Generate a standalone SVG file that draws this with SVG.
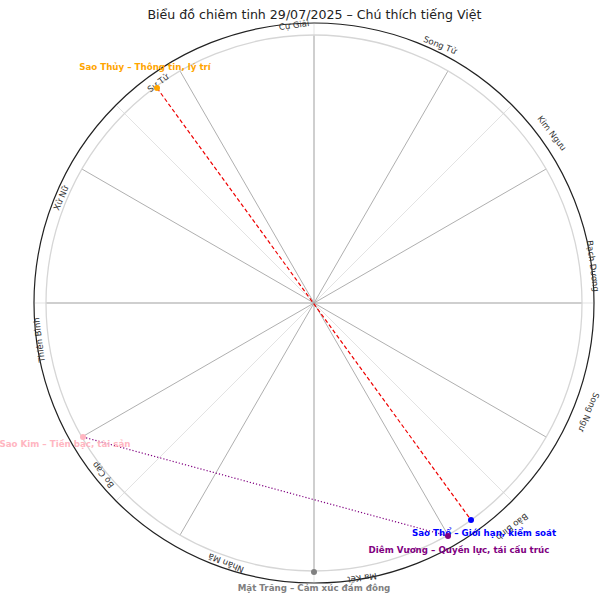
<svg xmlns="http://www.w3.org/2000/svg" width="600" height="600" viewBox="0 0 600 600">
<style>
.t{font-family:"DejaVu Sans",sans-serif}
.sign{font-family:"DejaVu Sans",sans-serif;font-size:8.5px;fill:#333;text-anchor:middle;dominant-baseline:central}
.pl{font-family:"DejaVu Sans",sans-serif;font-size:8.7px;font-weight:bold;text-anchor:middle;dominant-baseline:central}
.grid{stroke:#dcdcdc;stroke-width:0.8}
.house{stroke:#a6a6a6;stroke-width:0.9}
</style>
<rect width="600" height="600" fill="#fff"/>
<g id="wheel">
<g class="grid">
<line x1="314" y1="303" x2="593" y2="303"/>
<line x1="314" y1="303" x2="511.3" y2="105.7"/>
<line x1="314" y1="303" x2="314" y2="24"/>
<line x1="314" y1="303" x2="116.7" y2="105.7"/>
<line x1="314" y1="303" x2="35" y2="303"/>
<line x1="314" y1="303" x2="116.7" y2="500.3"/>
<line x1="314" y1="303" x2="314" y2="582"/>
<line x1="314" y1="303" x2="511.3" y2="500.3"/>
</g>
<g class="house">
<line x1="314" y1="303" x2="582" y2="303"/>
<line x1="314" y1="303" x2="546.1" y2="169"/>
<line x1="314" y1="303" x2="448" y2="70.9"/>
<line x1="314" y1="303" x2="314" y2="35"/>
<line x1="314" y1="303" x2="180" y2="70.9"/>
<line x1="314" y1="303" x2="81.9" y2="169"/>
<line x1="314" y1="303" x2="46" y2="303"/>
<line x1="314" y1="303" x2="81.9" y2="437"/>
<line x1="314" y1="303" x2="180" y2="535.1"/>
<line x1="314" y1="303" x2="314" y2="571"/>
<line x1="314" y1="303" x2="448" y2="535.1"/>
<line x1="314" y1="303" x2="546.1" y2="437"/>
</g>
<circle cx="314" cy="303" r="268" fill="none" stroke="#d6d6d6" stroke-width="1.3"/>
<circle cx="314" cy="303" r="280" fill="none" stroke="#222" stroke-width="1.2"/>
</g>
<g id="signs">
<text class="sign" transform="translate(593,266) rotate(82.5)">Bạch Dương</text>
<text class="sign" transform="translate(552,133) rotate(52.5)">Kim Ngưu</text>
<text class="sign" transform="translate(440,45) rotate(22.5)">Song Tử</text>
<text class="sign" transform="translate(294,25) rotate(-7.5)">Cự Giải</text>
<text class="sign" transform="translate(158,83) rotate(-37.5)">Sư Tử</text>
<text class="sign" transform="translate(61,198) rotate(-67.5)">Xử Nữ</text>
<text class="sign" transform="translate(39,340) rotate(-97.5)">Thiên Bình</text>
<text class="sign" transform="translate(103,475) rotate(-127.5)">Bọ Cạp</text>
<text class="sign" transform="translate(226,563) rotate(-157.5)">Nhân Mã</text>
<text class="sign" transform="translate(362,578) rotate(172.5)">Ma Kết</text>
<text class="sign" transform="translate(512,527) rotate(142.5)">Bảo Bình</text>
<text class="sign" transform="translate(589,412) rotate(112.5)">Song Ngư</text>
</g>
<g id="connectors">
<line x1="157" y1="88" x2="471" y2="520" stroke="#e00" stroke-width="1.2" stroke-dasharray="4,2.5"/>
<line x1="83" y1="437" x2="448" y2="536" stroke="#800080" stroke-width="1.2" stroke-dasharray="1.2,2"/>
</g>
<g id="sao-thuy">
<circle cx="157" cy="88" r="3" fill="#ffa500"/>
<text class="pl" x="145" y="67" fill="#ffa500">Sao Thủy – Thông tin, lý trí</text>
</g>
<g id="sao-kim">
<circle cx="83" cy="437" r="3" fill="#ffb6c1"/>
<text class="pl" x="65" y="444" fill="#ffb6c1">Sao Kim – Tiền bạc, tài sản</text>
</g>
<g id="sao-tho">
<circle cx="471" cy="520" r="3" fill="#0000ff"/>
<text class="pl" x="484" y="533" fill="#0000ff">Sao Thổ – Giới hạn, kiểm soát</text>
</g>
<g id="diem-vuong">
<circle cx="448" cy="536" r="3" fill="#800080"/>
<text class="pl" x="459" y="550" fill="#800080">Diêm Vương – Quyền lực, tái cấu trúc</text>
</g>
<g id="mat-trang">
<circle cx="314" cy="572" r="3" fill="#808080"/>
<text class="pl" x="314" y="588" fill="#808080">Mặt Trăng – Cảm xúc đám đông</text>
</g>
<text class="t" x="314.5" y="19" font-size="12.6" fill="#222" text-anchor="middle">Biểu đồ chiêm tinh 29/07/2025 – Chú thích tiếng Việt</text>
</svg>
